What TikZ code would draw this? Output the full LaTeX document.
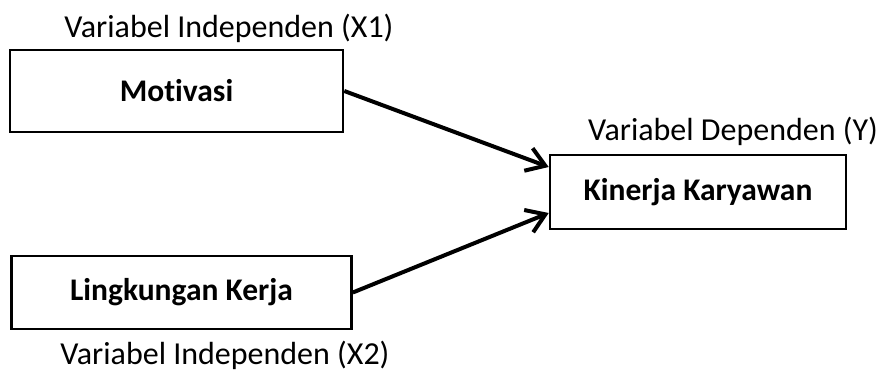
\documentclass[tikz,border=0pt]{standalone}
\usepackage{fontspec}
\setmainfont[Ligatures={NoCommon,NoDiscretionary}]{Carlito}
\usepackage{tikz}
\usetikzlibrary{arrows.meta, positioning}
\tikzset{
  varbox/.style={draw, line width=2.6pt, align=center, inner sep=0pt, font=\fontsize{31.5}{36}\selectfont\bfseries},
  varlabel/.style={align=center, inner sep=0pt, font=\fontsize{32}{38}\selectfont},
  arrow/.style={-{Straight Barb[length=18pt, width=24pt, line width=4pt]}, line width=4pt}
}

\begin{document}
\begin{tikzpicture}[x=1pt, y=-1pt]
    \useasboundingbox (0,0) rectangle (882,372);
    \node[varbox, minimum width=333pt, minimum height=82pt] (mot) at (176.5,91) {Motivasi};
    \node[varbox, minimum width=340pt, minimum height=73pt] (ling) at (181.5,292.5) {Lingkungan Kerja};
    \node[varbox, minimum width=296pt, minimum height=74pt] (kin) at (698,192) {Kinerja Karyawan};
    \node[varlabel] (lx1) at (229,28) {Variabel Independen (X1)};
    \node[varlabel] (ly) at (733,131) {Variabel Dependen (Y)};
    \node[varlabel] (lx2) at (225,355) {Variabel Independen (X2)};
    \draw[arrow] (mot.east) -- ([yshift=25pt]kin.west);
    \draw[arrow] (ling.east) -- ([yshift=-21pt]kin.west);
\end{tikzpicture}
\end{document}
